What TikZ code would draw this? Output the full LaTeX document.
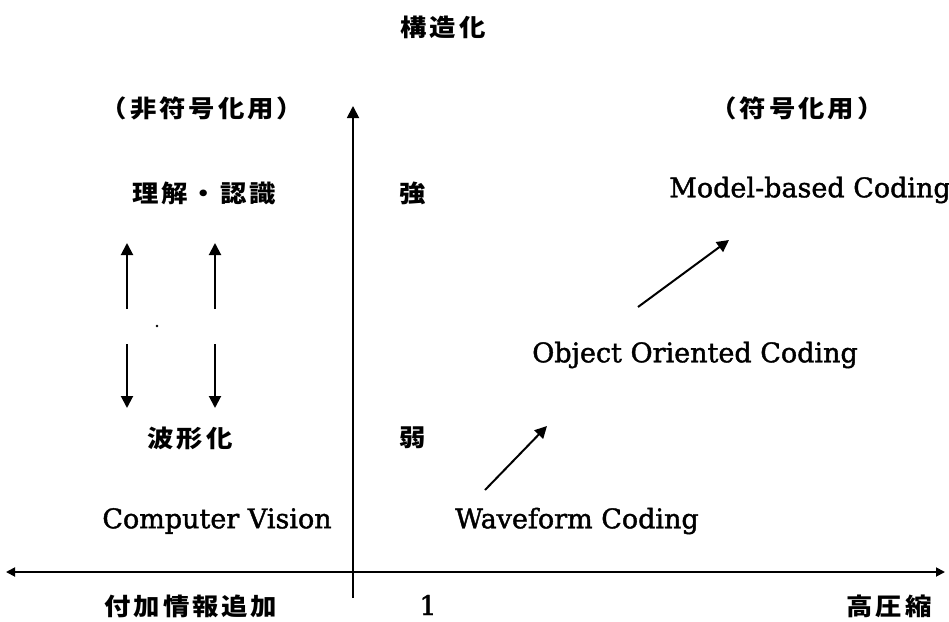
\documentclass[tikz,border=0pt]{standalone}
\usepackage{fontspec}
\setmainfont{DejaVu Serif}[FakeBold=1.5]
\newfontfamily\jp{Noto Sans CJK JP}[FakeStretch=1.1,LetterSpace=12]
\usetikzlibrary{arrows.meta}
\begin{document}
\begin{tikzpicture}[x=1pt,y=-1pt,
  jlab/.style={inner sep=0pt,font=\jp\bfseries\fontsize{24}{24}\selectfont},
  elab/.style={inner sep=0pt,font=\fontsize{27}{27}\selectfont},
  axis/.style={line width=1.8pt},
  arr/.style={line width=2pt,-{Triangle[length=12pt,width=12pt]}},
  harr/.style={line width=1.8pt,{Triangle[length=9pt,width=9pt]}-{Triangle[length=9pt,width=9pt]}}]
\useasboundingbox[fill=white] (0,0) rectangle (949,621);
% axes
\coordinate (vb) at (353,598);
\coordinate (vt) at (353,106);
\coordinate (hl) at (6,572);
\coordinate (hr) at (945,572);
\draw[axis,-{Triangle[length=12pt,width=12pt]}] (vb) -- (vt);
\draw[harr] (hl) -- (hr);
% labels
\node[jlab] (title) at (443,27) {構造化};
\node[jlab] (nonc) at (202,108) {（非符号化用）};
\node[jlab] (cod) at (797,108) {（符号化用）};
\node[jlab] (und) at (204,193) {理解・認識};
\node[jlab] (strong) at (413,193) {強};
\node[elab] (mbc) at (810,190) {Model-based Coding};
\node[elab] (ooc) at (695,355) {Object Oriented Coding};
\node[jlab] (wave) at (190,438) {波形化};
\node[jlab] (weak) at (413,438) {弱};
\node[elab] (cv) at (217,521) {Computer Vision};
\node[elab] (wc) at (577,521) {Waveform Coding};
\node[jlab] (add) at (191,606) {付加情報追加};
\node[elab,anchor=base] (one) at (428,615) {1};
\node[jlab] (high) at (889,606) {高圧縮};
% vertical arrows
\coordinate (a1) at (127,309); \coordinate (a1t) at (127,243);
\coordinate (a2) at (127,344); \coordinate (a2t) at (127,408);
\coordinate (b1) at (215,309); \coordinate (b1t) at (215,243);
\coordinate (b2) at (215,344); \coordinate (b2t) at (215,408);
\draw[arr] (a1) -- (a1t);
\draw[arr] (a2) -- (a2t);
\draw[arr] (b1) -- (b1t);
\draw[arr] (b2) -- (b2t);
\fill (157,326) circle (1.3pt);
% diagonal arrows
\coordinate (d1s) at (485,490); \coordinate (d1e) at (547,426);
\coordinate (d2s) at (638,307); \coordinate (d2e) at (729,240);
\draw[arr] (d1s) -- (d1e);
\draw[arr] (d2s) -- (d2e);
\end{tikzpicture}
\end{document}
